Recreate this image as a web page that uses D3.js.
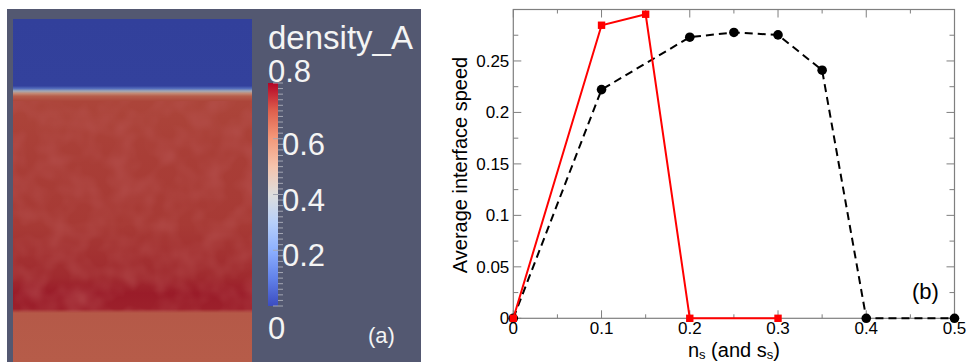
<!DOCTYPE html>
<html>
<head>
<meta charset="utf-8">
<script src="https://cdn.jsdelivr.net/npm/d3@7"></script>
<style>
  body { margin: 0; background: #fff; }
  svg { display: block; font-family: "Liberation Sans", Arial, sans-serif; }
</style>
</head>
<body>
<svg id="fig" width="967" height="362"></svg>
<script>
// (b) average interface speed vs n_s
const nsBlack = [0, 0.1, 0.2, 0.25, 0.3, 0.35, 0.4, 0.5];
const speedBlack = [0, 0.2222, 0.2731, 0.2777, 0.2753, 0.241, 0, 0];
const nsRed = [0, 0.1, 0.15, 0.2, 0.3];
const speedRed = [0, 0.2847, 0.2954, 0, 0];
const xTickLabels = ["0", "0.1", "0.2", "0.3", "0.4", "0.5"];
const yTickLabels = ["0", "0.05", "0.1", "0.15", "0.2", "0.25"];

// (a) density profile across the box (z: 0 = top, 1 = bottom)
const profileZ = [0, 0.195, 0.203, 0.21, 0.217, 0.225, 0.24, 0.4, 0.6, 0.75, 0.8, 0.845, 0.857, 1];
const profileRho = [0.01, 0.012, 0.12, 0.36, 0.55, 0.66, 0.71, 0.72, 0.725, 0.745, 0.765, 0.76, 0.67, 0.665];
const cbarLabels = [0.8, 0.6, 0.4, 0.2, 0];

// ParaView "Cool to Warm"
const coolWarm = [[59,76,192],[98,130,234],[141,176,254],[184,208,249],[221,221,221],
                  [245,196,173],[244,154,123],[222,96,77],[180,4,38]];
const cmap = d3.scaleLinear()
  .domain(d3.range(coolWarm.length).map(i => 0.8 * i / (coolWarm.length - 1)))
  .range(coolWarm.map(c => d3.rgb(c[0], c[1], c[2])))
  .clamp(true);
const shade = 0.79;
function shaded(v) {
  const c = d3.rgb(cmap(v));
  return d3.rgb(c.r * shade, c.g * shade, c.b * shade).formatHex();
}

const svg = d3.select("#fig");
const defs = svg.append("defs");

// ---------- panel (a) ----------
svg.append("rect").attr("x", 7).attr("y", 9).attr("width", 414).attr("height", 353)
  .attr("fill", "#535871");

const simX = 13, simW = 239;
const zScale = d3.scaleLinear().domain([0, 1]).range([19, 362]);

const simGrad = defs.append("linearGradient").attr("id", "simGrad")
  .attr("x1", 0).attr("y1", 0).attr("x2", 0).attr("y2", 1);
simGrad.selectAll("stop").data(profileZ).enter().append("stop")
  .attr("offset", d => d)
  .attr("stop-color", (d, i) => shaded(profileRho[i]));

svg.append("rect").attr("x", simX).attr("y", zScale(0)).attr("width", simW)
  .attr("height", zScale(1) - zScale(0)).attr("fill", "url(#simGrad)");

// soft mottled texture of the dense phase
const mottle = defs.append("filter").attr("id", "mottle")
  .attr("x", 0).attr("y", 0).attr("width", 1).attr("height", 1);
mottle.append("feTurbulence").attr("type", "fractalNoise")
  .attr("baseFrequency", 0.045).attr("numOctaves", 2).attr("seed", 7).attr("result", "n");
mottle.append("feColorMatrix").attr("in", "n").attr("type", "matrix")
  .attr("values", "0 0 0 0 0.5  0 0 0 0 0.1  0 0 0 0 0.1  0.9 0 0 0 -0.33");
svg.append("rect").attr("x", simX).attr("y", zScale(0.24)).attr("width", simW)
  .attr("height", zScale(0.852) - zScale(0.24)).attr("filter", "url(#mottle)");

// colour bar
const cb = d3.scaleLinear().domain([0, 0.8]).range([306, 83]);
const cbGrad = defs.append("linearGradient").attr("id", "cbGrad")
  .attr("x1", 0).attr("y1", 1).attr("x2", 0).attr("y2", 0);
cbGrad.selectAll("stop").data(coolWarm).enter().append("stop")
  .attr("offset", (d, i) => i / (coolWarm.length - 1))
  .attr("stop-color", d => d3.rgb(d[0], d[1], d[2]).formatHex());
svg.append("rect").attr("x", 268).attr("y", cb(0.8)).attr("width", 10)
  .attr("height", cb(0) - cb(0.8)).attr("fill", "url(#cbGrad)");

svg.append("g").selectAll("line").data(cb.ticks(40)).enter().append("line")
  .attr("x1", d => (Math.abs(d * 5 - Math.round(d * 5)) < 1e-6 ? 273 : 278))
  .attr("x2", 283)
  .attr("y1", d => cb(d)).attr("y2", d => cb(d))
  .attr("stroke", "#a3a6b3").attr("stroke-width", 1);

const cbText = svg.append("g").attr("fill", "#f4f4f4").attr("font-size", 31);
cbText.selectAll("text").data(cbarLabels).enter().append("text")
  .attr("x", d => (d === 0.8 || d === 0) ? 268 : 282)
  .attr("y", d => d === 0.8 ? 82 : d === 0 ? 339 : cb(d) + 16)
  .text(d => d === 0 ? "0" : d.toFixed(1));
svg.append("text").attr("x", 268).attr("y", 49).attr("font-size", 33)
  .attr("fill", "#f4f4f4").text("density_A");
svg.append("text").attr("x", 368).attr("y", 343).attr("font-size", 22)
  .attr("fill", "#f4f4f4").text("(a)");

// ---------- panel (b) ----------
const x = d3.scaleLinear().domain([0, 0.5]).range([513.3, 954.5]);
const y = d3.scaleLinear().domain([0, 0.3]).range([318.3, 9.5]);
const frame = "#7f7f7f";

const tk = svg.append("g").attr("stroke", frame).attr("stroke-width", 1);
d3.range(0, 11).forEach(i => {
  const v = i * 0.05, len = i % 2 === 0 ? 8 : 4;
  tk.append("line").attr("x1", x(v)).attr("x2", x(v)).attr("y1", y(0)).attr("y2", y(0) - len);
  tk.append("line").attr("x1", x(v)).attr("x2", x(v)).attr("y1", y(0.3)).attr("y2", y(0.3) + len);
});
d3.range(0, 13).forEach(i => {
  const v = i * 0.025, len = i % 2 === 0 ? 8 : 5;
  tk.append("line").attr("y1", y(v)).attr("y2", y(v)).attr("x1", x(0)).attr("x2", x(0) + len);
  tk.append("line").attr("y1", y(v)).attr("y2", y(v)).attr("x1", x(0.5)).attr("x2", x(0.5) - len);
});
svg.append("rect").attr("x", x(0)).attr("y", y(0.3)).attr("width", x(0.5) - x(0))
  .attr("height", y(0) - y(0.3)).attr("fill", "none").attr("stroke", frame).attr("stroke-width", 1.2);

const lab = svg.append("g").attr("font-size", 17).attr("fill", "#000");
lab.selectAll(".xl").data(xTickLabels).enter().append("text")
  .attr("x", d => x(+d)).attr("y", 334).attr("text-anchor", "middle").text(d => d);
lab.selectAll(".yl").data(yTickLabels).enter().append("text")
  .attr("x", x(0) - 4).attr("y", d => y(+d) + 6).attr("text-anchor", "end").text(d => d);

svg.append("text").attr("transform", `translate(467,165) rotate(-90)`)
  .attr("text-anchor", "middle").attr("font-size", 20).text("Average interface speed");

const xt = svg.append("text").attr("x", (x(0) + x(0.5)) / 2).attr("y", 356.5)
  .attr("text-anchor", "middle").attr("font-size", 20);
xt.append("tspan").text("n");
xt.append("tspan").attr("font-size", 13).attr("dy", 2.5).text("s");
xt.append("tspan").attr("dy", -2.5).text(" (and s");
xt.append("tspan").attr("font-size", 13).attr("dy", 2.5).text("s");
xt.append("tspan").attr("dy", -2.5).text(")");

svg.append("text").attr("x", 912).attr("y", 299).attr("font-size", 22).text("(b)");

const line = d3.line().x(d => x(d[0])).y(d => y(d[1]));
const black = nsBlack.map((v, i) => [v, speedBlack[i]]);
const red = nsRed.map((v, i) => [v, speedRed[i]]);

svg.append("path").datum(black).attr("d", line).attr("fill", "none")
  .attr("stroke", "#000").attr("stroke-width", 2).attr("stroke-dasharray", "8,5");
svg.append("g").selectAll("circle").data(black).enter().append("circle")
  .attr("cx", d => x(d[0])).attr("cy", d => y(d[1])).attr("r", 4.8).attr("fill", "#000");

svg.append("path").datum(red).attr("d", line).attr("fill", "none")
  .attr("stroke", "#ff0000").attr("stroke-width", 2);
svg.append("g").selectAll("rect").data(red).enter().append("rect")
  .attr("x", d => x(d[0]) - 3.7).attr("y", d => y(d[1]) - 3.7)
  .attr("width", 7.4).attr("height", 7.4).attr("fill", "#ff0000");
</script>
</body>
</html>
